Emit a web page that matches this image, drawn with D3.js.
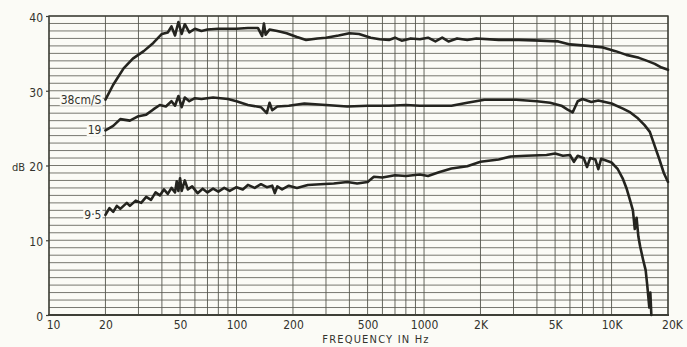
<!DOCTYPE html>
<html>
<head>
<meta charset="utf-8">
<script src="https://cdn.jsdelivr.net/npm/d3@7"></script>
<style>
  body { margin: 0; background: #fbfbf6; }
  svg { display: block; }
  text { font-family: "DejaVu Sans Condensed", "DejaVu Sans", sans-serif; fill: #33332d; }
</style>
</head>
<body>
<div id="chart"></div>
<script>
// tape speed response curves, [Hz, dB]
const speed38 = [
  [20, 28.8], [22, 30.8], [25, 33.0], [28, 34.3], [32, 35.3], [36, 36.4], [40, 37.6], [43, 37.8],
  [45, 38.6], [47, 37.4], [49, 39.2], [51, 37.6], [53, 38.9], [56, 37.8], [60, 38.3], [65, 38.0],
  [70, 38.2], [80, 38.3], [90, 38.3], [100, 38.3], [115, 38.4], [130, 38.4], [137, 37.3], [140, 39.0],
  [143, 37.5], [150, 38.2], [165, 38.0], [185, 37.7], [210, 37.2], [235, 36.8], [270, 37.0], [300, 37.1],
  [350, 37.4], [400, 37.7], [450, 37.6], [520, 37.1], [580, 36.9], [650, 36.8], [700, 37.1], [760, 36.7],
  [850, 37.0], [950, 36.9], [1050, 37.1], [1150, 36.6], [1250, 37.1], [1350, 36.6], [1500, 37.0],
  [1700, 36.8], [1900, 37.0], [2500, 36.8], [3200, 36.8], [4200, 36.7], [5200, 36.6], [6000, 36.2],
  [7500, 36.0], [9000, 35.8], [10500, 35.3], [12000, 34.8], [14000, 34.4], [15500, 34.0], [17000, 33.6],
  [18500, 33.1], [20000, 32.8]
];
const speed19 = [
  [20, 24.7], [22, 25.3], [24, 26.2], [27, 26.0], [30, 26.6], [33, 26.8], [36, 27.5], [39, 28.1],
  [42, 27.9], [45, 28.6], [47, 28.0], [49, 29.3], [51, 27.8], [53, 29.1], [56, 28.6], [60, 29.0],
  [65, 28.9], [75, 29.1], [90, 28.9], [100, 28.6], [115, 28.1], [135, 27.8], [145, 27.0], [150, 28.4],
  [155, 27.4], [165, 27.9], [190, 28.0], [230, 28.3], [300, 28.1], [390, 27.9], [500, 28.0], [650, 28.0],
  [800, 28.1], [950, 28.0], [1200, 28.0], [1400, 28.0], [1700, 28.4], [2100, 28.8], [3100, 28.8],
  [4000, 28.6], [4700, 28.4], [5400, 28.0], [5800, 27.5], [6200, 27.1], [6600, 28.6], [7000, 28.9],
  [7800, 28.5], [8500, 28.7], [10000, 28.3], [11500, 27.6], [12600, 27.1], [13700, 26.4], [15000, 25.4],
  [16000, 24.5], [17000, 22.6], [18000, 20.8], [19000, 19.0], [20000, 17.8]
];
const speed95 = [
  [20, 13.4], [21, 14.3], [22, 13.8], [23, 14.6], [24, 14.2], [26, 15.0], [27, 14.6], [29, 15.3],
  [31, 15.0], [33, 15.8], [35, 15.4], [37, 16.4], [39, 16.0], [41, 16.8], [43, 16.2], [45, 17.0],
  [47, 16.4], [48, 17.9], [49, 16.6], [50, 18.3], [51, 16.6], [53, 18.0], [55, 16.8], [58, 17.2],
  [62, 16.3], [66, 16.9], [70, 16.4], [75, 16.9], [80, 16.5], [86, 17.0], [92, 16.6], [100, 17.1],
  [108, 16.8], [115, 17.4], [125, 17.0], [135, 17.5], [145, 17.1], [155, 17.3], [160, 16.3], [165, 17.2],
  [175, 16.8], [190, 17.3], [210, 17.0], [240, 17.4], [280, 17.5], [330, 17.6], [390, 17.8], [440, 17.6],
  [500, 17.8], [540, 18.5], [600, 18.4], [700, 18.7], [800, 18.6], [950, 18.8], [1050, 18.6], [1200, 19.1],
  [1400, 19.6], [1700, 19.9], [2000, 20.5], [2500, 20.8], [2900, 21.2], [3500, 21.3], [4500, 21.4],
  [5000, 21.6], [5500, 21.3], [6000, 21.4], [6300, 20.5], [6600, 21.3], [7100, 21.0], [7400, 19.8],
  [7700, 21.0], [8200, 20.8], [8500, 19.5], [8800, 20.9], [9500, 20.6], [10000, 20.4], [10800, 19.5],
  [11500, 18.2], [12000, 17.0], [12500, 15.5], [13000, 14.0], [13300, 11.5], [13600, 13.0], [13900, 10.5],
  [14200, 9.2], [14700, 7.5], [15200, 6.0], [15500, 4.0], [15700, 2.5], [15900, 1.0], [16100, 3.0],
  [16300, 0.0]
];
const curveNames = ["38cm/S", "19", "9·5"];
const xTickValues = [10, 20, 50, 100, 200, 500, 1000, 2000, 5000, 10000, 20000];
const xTickLabels = ["10", "20", "50", "100", "200", "500", "1000", "2K", "5K", "10K", "20K"];
const yTickValues = [0, 10, 20, 30, 40];

const W = 687, H = 347;
const svg = d3.select("#chart").append("svg").attr("width", W).attr("height", H);

const x = d3.scaleLog().domain([10, 20000]).range([49, 668]);
const y = d3.scaleLinear().domain([0, 40]).range([315, 16]);

const gridColor = "#55564d";

// graph paper
svg.append("g")
  .selectAll("line")
  .data(y.ticks(40))
  .enter().append("line")
  .attr("x1", x(10)).attr("x2", x(20000))
  .attr("y1", d => y(d)).attr("y2", d => y(d))
  .attr("stroke", gridColor).attr("stroke-width", 0.8);

svg.append("g")
  .selectAll("line")
  .data(x.ticks())
  .enter().append("line")
  .attr("x1", d => x(d)).attr("x2", d => x(d))
  .attr("y1", y(40)).attr("y2", y(0))
  .attr("stroke", gridColor).attr("stroke-width", 0.9);

// frame
svg.append("rect")
  .attr("x", x(10)).attr("y", y(40))
  .attr("width", x(20000) - x(10)).attr("height", y(0) - y(40))
  .attr("fill", "none").attr("stroke", "#3e3f37").attr("stroke-width", 1.4);
svg.append("line")
  .attr("x1", x(10) - 1).attr("x2", x(20000) + 1)
  .attr("y1", y(0)).attr("y2", y(0))
  .attr("stroke", "#3e3f37").attr("stroke-width", 2);

// y axis
const yAxis = svg.append("g")
  .attr("transform", `translate(${x(10)},0)`)
  .call(d3.axisLeft(y).tickValues(yTickValues).tickSize(3).tickPadding(3));
yAxis.select(".domain").remove();
yAxis.selectAll("line").attr("stroke", "#3e3f37").attr("stroke-width", 1.2);
yAxis.selectAll("text").style("font-size", "12px").attr("fill", "#33332d").attr("dy", "0.45em");

svg.append("text")
  .attr("x", 12).attr("y", y(20) + 5)
  .style("font-size", "11px")
  .text("dB");

// x axis
const xAxis = svg.append("g")
  .attr("transform", `translate(0,${y(0)})`)
  .call(d3.axisBottom(x).tickValues(xTickValues)
    .tickFormat((d, i) => xTickLabels[i]).tickSize(0).tickPadding(5));
xAxis.select(".domain").remove();
xAxis.selectAll("text").style("font-size", "12px").attr("fill", "#33332d");
xAxis.selectAll("text").filter((d, i) => i === 0).attr("dx", 4);
xAxis.selectAll("text").filter((d, i) => i === xTickLabels.length - 1).attr("dx", 4);

svg.append("text")
  .attr("x", 376).attr("y", 343)
  .attr("text-anchor", "middle")
  .style("font-size", "11px")
  .style("letter-spacing", "1.2px")
  .text("FREQUENCY IN Hz");

// curve labels with a paper-coloured patch behind
const series = [speed38, speed19, speed95];
const labelG = svg.append("g");
series.forEach((s, i) => {
  const t = labelG.append("text")
    .attr("x", x(s[0][0]) - 4)
    .attr("y", y(s[0][1]) + 4)
    .attr("text-anchor", "end")
    .style("font-size", "12px")
    .text(curveNames[i]);
  const bb = t.node().getBBox();
  labelG.insert("rect", "text")
    .attr("x", bb.x - 1).attr("y", bb.y + 1)
    .attr("width", bb.width + 2).attr("height", bb.height - 2)
    .attr("fill", "#fbfbf6");
});

const line = d3.line()
  .x(d => x(d[0]))
  .y(d => y(d[1]))
  .curve(d3.curveLinear);

svg.append("g")
  .selectAll("path")
  .data(series)
  .enter().append("path")
  .attr("d", line)
  .attr("fill", "none")
  .attr("stroke", "#24241f")
  .attr("stroke-width", 2.6)
  .attr("stroke-linejoin", "round")
  .attr("stroke-linecap", "round");
</script>
</body>
</html>
